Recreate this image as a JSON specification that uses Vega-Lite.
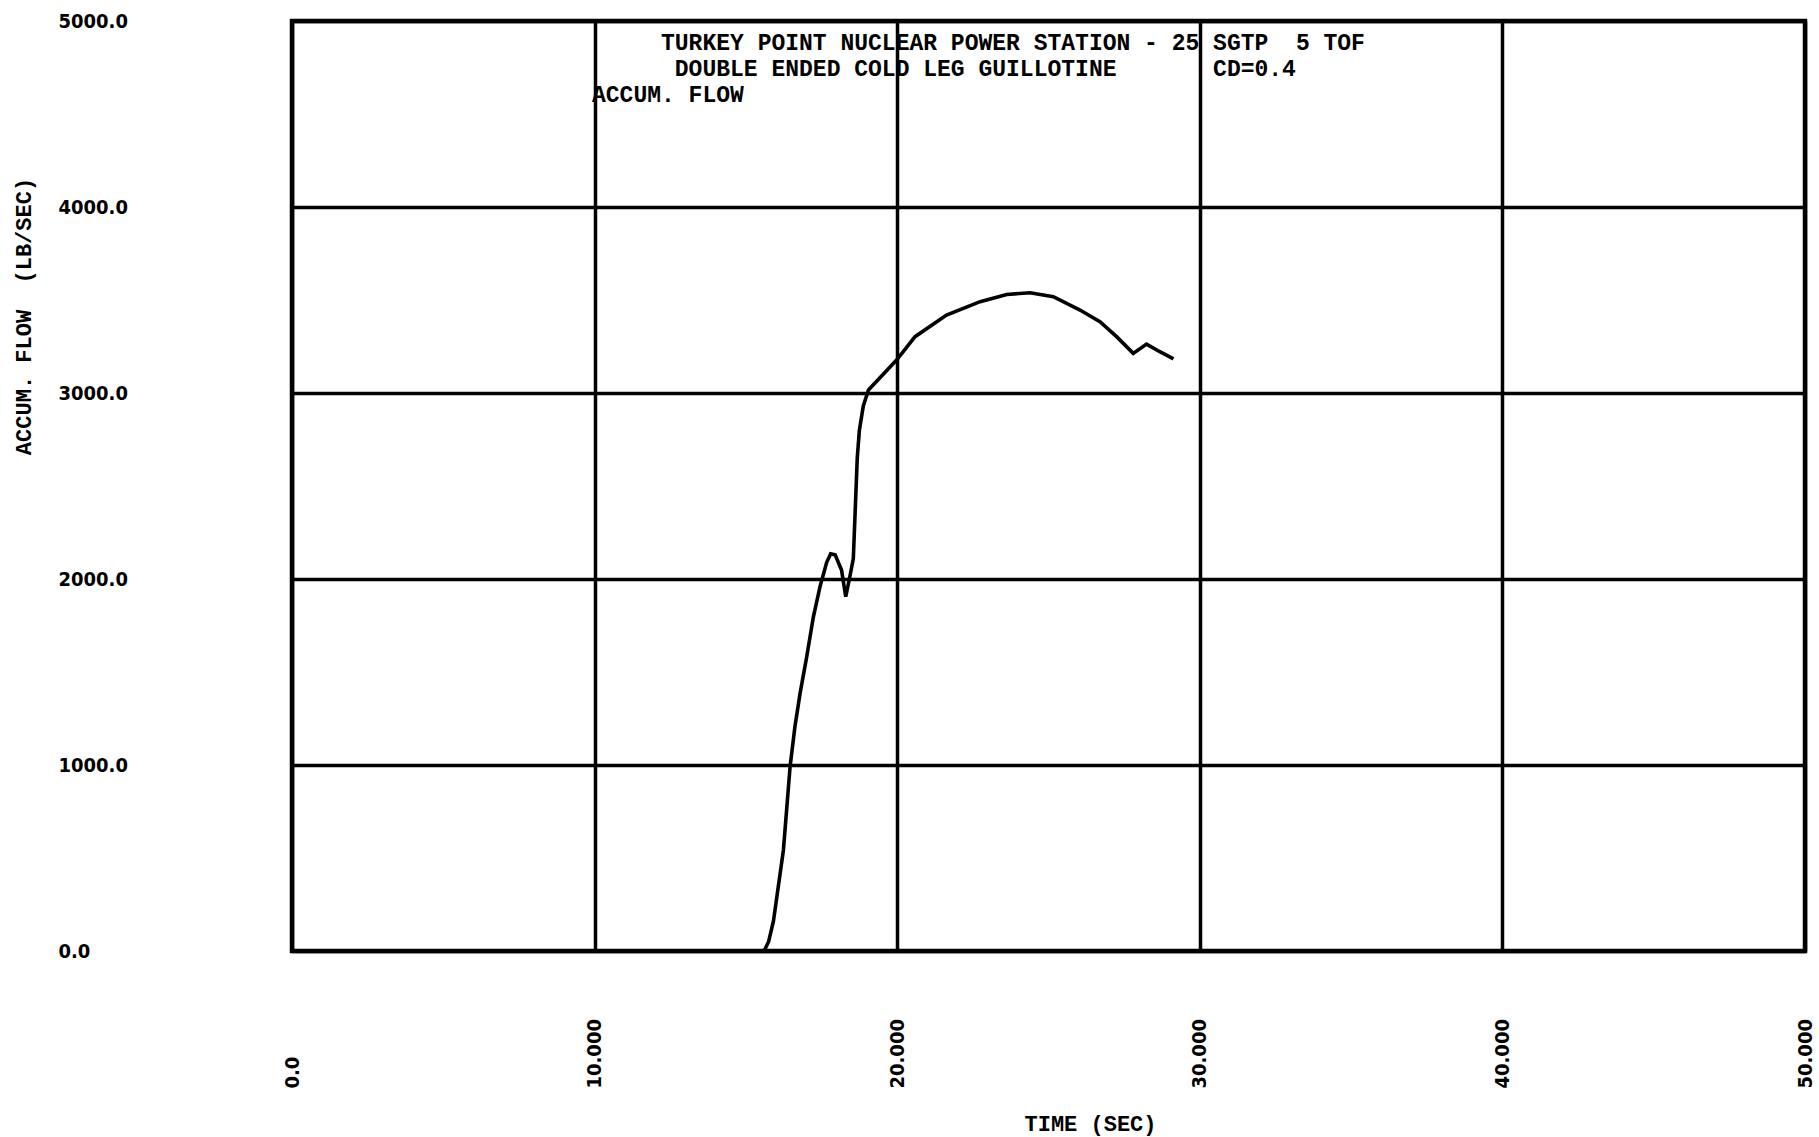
{
  "$schema": "https://vega.github.io/schema/vega-lite/v6.json",
  "width": 1513,
  "height": 930,
  "autosize": {"type": "none"},
  "padding": {"left": 292, "top": 21, "right": 14, "bottom": 186},
  "background": "white",
  "title": {
    "text": [
      "\u200b\u00a0\u00a0\u00a0\u00a0\u00a0TURKEY POINT NUCLEAR POWER STATION - 25 SGTP\u00a0\u00a05 TOF",
      "\u200b\u00a0\u00a0\u00a0\u00a0\u00a0\u00a0DOUBLE ENDED COLD LEG GUILLOTINE\u00a0\u00a0\u00a0\u00a0\u00a0\u00a0\u00a0CD=0.4",
      "ACCUM. FLOW"
    ],
    "anchor": "start",
    "frame": "group",
    "orient": "top",
    "align": "left",
    "baseline": "top",
    "dx": 300,
    "offset": -96,
    "font": "Liberation Mono",
    "fontSize": 23,
    "fontWeight": "bold",
    "lineHeight": 26,
    "color": "black"
  },
  "config": {
    "view": {"stroke": "black", "strokeWidth": 4.5},
    "axis": {
      "grid": true,
      "gridColor": "black",
      "gridWidth": 3.5,
      "gridOpacity": 1,
      "ticks": false,
      "domain": false,
      "labelColor": "black",
      "titleColor": "black",
      "labelFont": "DejaVu Sans Condensed, Liberation Sans Narrow, DejaVu Sans",
      "labelFontWeight": "bold",
      "labelFontSize": 20,
      "labelOverlap": false,
      "labelFlush": false,
      "labelBound": false
    }
  },
  "data": {
    "values": [
      {"t": 15.6, "flow": 0},
      {"t": 15.75, "flow": 50},
      {"t": 15.91, "flow": 160},
      {"t": 16.24, "flow": 543},
      {"t": 16.46, "flow": 991},
      {"t": 16.62, "flow": 1206},
      {"t": 16.79, "flow": 1385},
      {"t": 17.01, "flow": 1582},
      {"t": 17.23, "flow": 1797},
      {"t": 17.45, "flow": 1959},
      {"t": 17.67, "flow": 2090},
      {"t": 17.8, "flow": 2135},
      {"t": 17.95, "flow": 2130},
      {"t": 18.16, "flow": 2048},
      {"t": 18.3, "flow": 1905},
      {"t": 18.42, "flow": 2000},
      {"t": 18.55, "flow": 2110},
      {"t": 18.62, "flow": 2400},
      {"t": 18.68, "flow": 2650},
      {"t": 18.75, "flow": 2800},
      {"t": 18.88, "flow": 2930},
      {"t": 19.05, "flow": 3016},
      {"t": 19.98, "flow": 3177},
      {"t": 20.59, "flow": 3303},
      {"t": 21.63, "flow": 3419},
      {"t": 22.74, "flow": 3491},
      {"t": 23.62, "flow": 3530},
      {"t": 24.39, "flow": 3539},
      {"t": 25.16, "flow": 3518},
      {"t": 26.04, "flow": 3446},
      {"t": 26.7, "flow": 3383},
      {"t": 27.25, "flow": 3303},
      {"t": 27.8, "flow": 3213},
      {"t": 28.24, "flow": 3263},
      {"t": 28.68, "flow": 3222},
      {"t": 29.13, "flow": 3183}
    ]
  },
  "mark": {"type": "line", "color": "black", "strokeWidth": 3.6, "interpolate": "linear"},
  "encoding": {
    "x": {
      "field": "t",
      "type": "quantitative",
      "scale": {"domain": [0, 50], "nice": false, "zero": false},
      "axis": {
        "orient": "bottom",
        "values": [0, 10, 20, 30, 40, 50],
        "labelExpr": "datum.value == 0 ? '0.0' : format(datum.value, '.3f')",
        "labelAngle": 270,
        "labelAlign": "left",
        "labelBaseline": "middle",
        "labelPadding": 137,
        "title": "TIME (SEC)",
        "titleFont": "Liberation Mono",
        "titleFontSize": 22,
        "titleFontWeight": "bold",
        "titleX": 798,
        "titleY": 172,
        "titleAlign": "center",
        "titleBaseline": "middle"
      }
    },
    "y": {
      "field": "flow",
      "type": "quantitative",
      "scale": {"domain": [0, 5000], "nice": false},
      "axis": {
        "values": [0, 1000, 2000, 3000, 4000, 5000],
        "format": ".1f",
        "labelAlign": "left",
        "labelBaseline": "middle",
        "labelPadding": 234,
        "title": "ACCUM. FLOW\u00a0\u00a0(LB/SEC)",
        "titleFont": "Liberation Mono",
        "titleFontSize": 22,
        "titleFontWeight": "bold",
        "titleAngle": 270,
        "titleX": -269,
        "titleY": 295,
        "titleAlign": "center",
        "titleBaseline": "middle"
      }
    }
  }
}
